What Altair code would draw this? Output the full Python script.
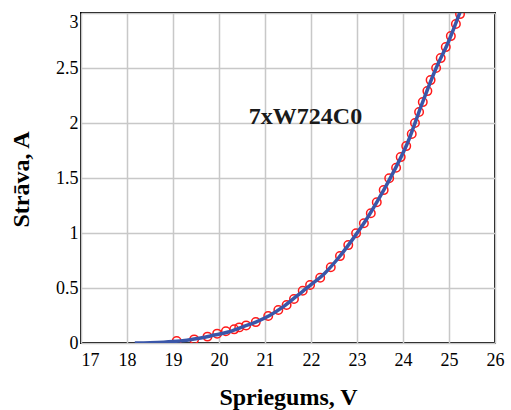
import altair as alt
import pandas as pd

# measured points (voltage V, current A)
meas_v = [19.08, 19.46, 19.75, 19.96, 20.15, 20.33, 20.44, 20.59, 20.80, 21.07,
          21.29, 21.47, 21.63, 21.82, 21.98, 22.20, 22.43, 22.63, 22.81, 22.98,
          23.15, 23.30, 23.43, 23.58, 23.70, 23.85, 23.95, 24.07, 24.19, 24.26,
          24.35, 24.43, 24.53, 24.60, 24.72, 24.82, 24.93, 25.04, 25.15, 25.24]
meas_i = [0.018, 0.033, 0.058, 0.085, 0.106, 0.124, 0.142, 0.16, 0.19, 0.245,
          0.30, 0.345, 0.40, 0.475, 0.527, 0.594, 0.688, 0.79, 0.89, 0.997,
          1.088, 1.18, 1.28, 1.39, 1.497, 1.594, 1.69, 1.79, 1.90, 2.0,
          2.10, 2.19, 2.29, 2.39, 2.50, 2.59, 2.69, 2.79, 2.90, 2.99]

# fitted model curve
curve_v = [18.17, 18.5, 18.8, 19.0, 19.3, 19.6, 19.9, 20.2, 20.5, 20.8, 21.1,
           21.4, 21.7, 22.0, 22.3, 22.6, 22.9, 23.2, 23.5, 23.8, 24.1, 24.4,
           24.7, 25.0, 25.25]
curve_i = [0.0, 0.002, 0.007, 0.013, 0.026, 0.045, 0.072, 0.10, 0.145, 0.19,
           0.25, 0.33, 0.43, 0.53, 0.635, 0.775, 0.94, 1.12, 1.33, 1.56, 1.82,
           2.16, 2.48, 2.75, 3.02]

x_ticks = [17, 18, 19, 20, 21, 22, 23, 24, 25, 26]
y_ticks = [0, 0.5, 1, 1.5, 2, 2.5, 3]

label_text = ["7xW724C0"]
label_v = [21.88]
label_i = [1.988]

meas = pd.DataFrame({"v": meas_v, "i": meas_i})
curve = pd.DataFrame({"v": curve_v, "i": curve_i})
lab = pd.DataFrame({"v": label_v, "i": label_i, "t": label_text})

FONT = "Liberation Serif"
LFONT = "Liberation Serif, Times New Roman, DejaVu Serif, serif"

xscale = alt.Scale(domain=[17, 26], nice=False, zero=False)
yscale = alt.Scale(domain=[0, 3], nice=False)

xaxis = alt.Axis(
    values=x_ticks, format="~g", title="Spriegums, V", grid=True, ticks=False, tickSize=0,
    domain=False, labelPadding=8, labelFlush=False,
    labelAlign=alt.condition("datum.value == 17", alt.value("left"), alt.value("center")),
    titleBaseline="alphabetic", titleY=61,
)
yaxis = alt.Axis(
    values=y_ticks, format="~g", title="Strāva, A", grid=True, ticks=False, tickSize=0,
    domain=False, labelPadding=3, labelFlush=False,
    labelBaseline=alt.condition("datum.value == 3", alt.value("top"), alt.value("middle")),
    titleAngle=-90, titleBaseline="alphabetic", titleX=-53, titleY=166,
    titleAlign="center",
)

points = alt.Chart(meas).mark_point(
    shape="circle", filled=False, color="#ff1a1a", size=72, strokeWidth=1.5,
    opacity=1, clip=True
).encode(
    x=alt.X("v:Q", scale=xscale, axis=xaxis),
    y=alt.Y("i:Q", scale=yscale, axis=yaxis),
)

line = alt.Chart(curve).mark_line(
    color="#3a56a8", strokeWidth=3.5, interpolate="monotone", clip=True
).encode(
    x=alt.X("v:Q", scale=xscale),
    y=alt.Y("i:Q", scale=yscale),
)

text = alt.Chart(lab).mark_text(
    font=FONT, fontSize=24, fontWeight="bold", color="#1a1a1a",
    align="center", baseline="alphabetic"
).encode(
    x=alt.X("v:Q", scale=xscale),
    y=alt.Y("i:Q", scale=yscale),
    text="t:N",
)

chart = alt.layer(points, line, text).properties(
    width=414, height=330,
    autosize=alt.AutoSizeParams(type="none"),
    padding={"left": 81, "top": 13, "right": 16, "bottom": 67},
    background="white",
).configure_view(
    stroke="black", strokeWidth=2
).configure_axis(
    gridColor="#c8c8c8", gridWidth=1.5, gridOpacity=1,
    labelFont=LFONT, labelFontSize=18, labelColor="black", labelFontWeight="normal",
    titleFont=FONT, titleFontSize=24, titleFontWeight="bold", titleColor="black",
)

chart.save("out.html", embed_options={"renderer": "svg", "actions": False})
